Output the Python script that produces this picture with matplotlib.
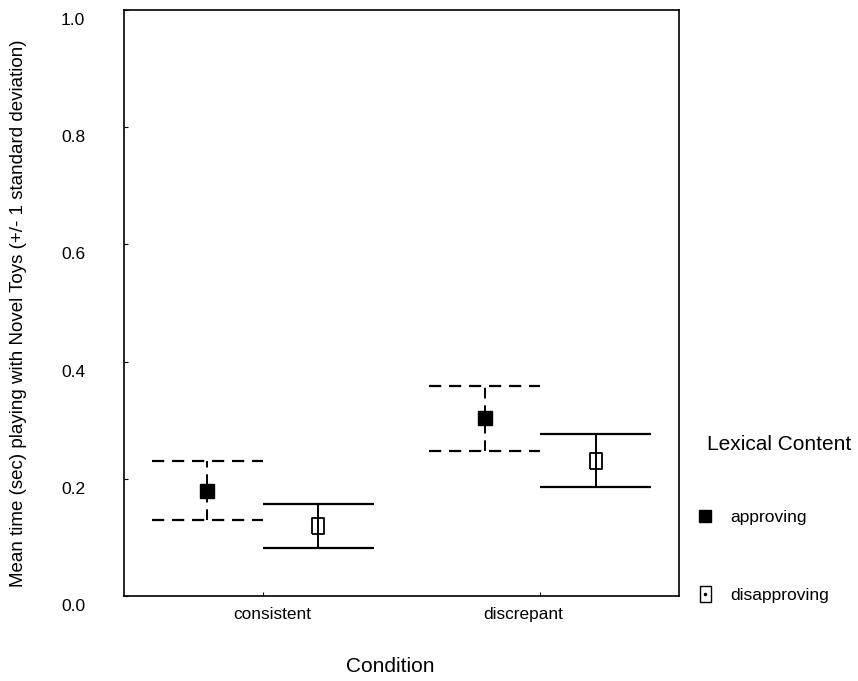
"""Mean play time with novel toys by condition and lexical content (+/- 1 SD)."""

import matplotlib
matplotlib.use("Agg")
import matplotlib.pyplot as plt
import matplotlib.transforms as mtransforms
from matplotlib.lines import Line2D
import numpy as np

plt.rcParams["font.family"] = ["Liberation Sans", "DejaVu Sans"]

conditions = ["consistent", "discrepant"]
series = ["approving", "disapproving"]
means = {"approving": [0.180, 0.303], "disapproving": [0.120, 0.231]}
sds = {"approving": [0.050, 0.0555], "disapproving": [0.0375, 0.045]}
yticks = [0.0, 0.2, 0.4, 0.6, 0.8, 1.0]

offset = 0.2     # horizontal shift of each series from the category centre
halfcap = 0.2    # half width of the SD bars
dash = (0, (5.5, 3.5))
styles = {"approving": dash, "disapproving": "-"}

# tall open rectangle for the disapproving means
rect = [(-0.36, -0.5), (0.36, -0.5), (0.36, 0.5), (-0.36, 0.5), (-0.36, -0.5)]

fig = plt.figure(figsize=(8.58, 6.81), dpi=100)
ax = fig.add_axes([124 / 858, 1 - 596 / 681, 555 / 858, 586 / 681])

xc = np.arange(1, len(conditions) + 1)
for k, name in enumerate(series):
    x = xc + (offset if k else -offset)
    m = np.array(means[name])
    s = np.array(sds[name])
    ls = styles[name]
    ax.hlines(m + s, x - halfcap, x + halfcap, colors="black", lw=1.6, linestyles=ls)
    ax.hlines(m - s, x - halfcap, x + halfcap, colors="black", lw=1.6, linestyles=ls)
    ax.vlines(x, m - s, m + s, colors="black", lw=1.4, linestyles=ls)
    if name == "approving":
        ax.plot(x, m, ls="none", marker="s", ms=10, mfc="black", mec="black", zorder=3)
    else:
        ax.plot(x, m, ls="none", marker=rect, ms=12, mfc="none", mec="black", mew=1.3, zorder=3)

ax.set_xlim(0.5, 2.5)
ax.set_ylim(0, 1)
ax.set_xticks(xc, conditions, fontsize=12.4)
ax.set_yticks(yticks, [f"{v:.1f}" for v in yticks], fontsize=12.5)
ax.tick_params(axis="y", direction="in", length=3, pad=28)
ax.tick_params(axis="x", direction="in", length=3, pad=8)

# y tick labels sit a little below their ticks; x labels are nudged off-centre
def nudge(lab, dx, dy):
    lab.set_transform(lab.get_transform() +
                      mtransforms.ScaledTranslation(dx / 100, dy / 100, fig.dpi_scale_trans))

for lab in ax.get_yticklabels():
    nudge(lab, 0, -9)
for lab, dx in zip(ax.get_xticklabels(), [9, -17]):
    nudge(lab, dx, 0)
for sp in ax.spines.values():
    sp.set_linewidth(1.2)

ax.set_ylabel("Mean time (sec) playing with Novel Toys (+/- 1 standard deviation)", fontsize=13.5)
ax.yaxis.set_label_coords(-0.175, 0.483)
ax.set_xlabel("Condition", fontsize=15)
ax.xaxis.set_label_coords(0.479, -0.104)

# legend beside the axes
fig.text(707 / 858, 1 - 444 / 681, "Lexical Content", fontsize=15, va="center", ha="left")
h_app = Line2D([], [], ls="none", marker="s", ms=8.5, mfc="black", mec="black")
h_dis = (Line2D([], [], ls="none", marker=rect, ms=11, mfc="none", mec="black", mew=1.0),
         Line2D([], [], ls="none", marker="o", ms=1.5, mfc="black", mec="black"))
fig.legend([h_app, h_dis], series, loc="upper left",
           bbox_to_anchor=(696 / 858, 1 - 510 / 681), frameon=False,
           borderpad=0, borderaxespad=0,
           fontsize=12.5, labelspacing=3.62, handlelength=1.0, handletextpad=0.95)

fig.savefig("out.png", dpi=100)
